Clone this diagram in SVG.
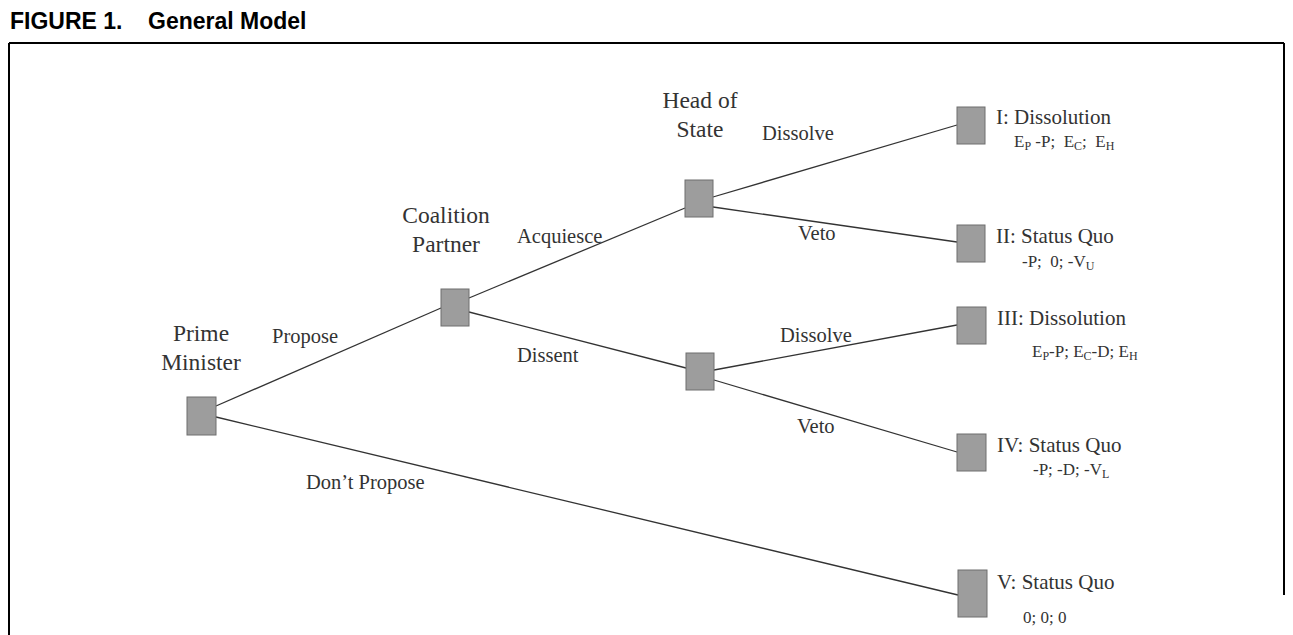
<svg xmlns="http://www.w3.org/2000/svg" width="1293" height="635" viewBox="0 0 1293 635">
<style>
.frame{stroke:#000;stroke-width:2;fill:none}
.box{fill:#9d9d9d;stroke:#6e6e6e;stroke-width:1}
.edge{stroke:#333;stroke-width:1.3;fill:none}
.title{font-family:"Liberation Sans",Arial,sans-serif;font-weight:bold;font-size:23px;fill:#000}
.who{font-family:"Liberation Serif","Times New Roman",serif;font-size:23.5px;fill:#333}
.lab{font-family:"Liberation Serif","Times New Roman",serif;font-size:20.5px;fill:#333}
.out{font-family:"Liberation Serif","Times New Roman",serif;font-size:21px;fill:#333}
.pay{font-family:"Liberation Serif","Times New Roman",serif;font-size:17px;fill:#333;white-space:pre}
.sub{font-size:12px}
</style>
<rect width="1293" height="635" fill="#fff"/>
<g id="frame">
<text class="title" x="10" y="29">FIGURE 1.</text>
<text class="title" x="148" y="29">General Model</text>
<line class="frame" x1="9" y1="43" x2="1284" y2="43"/>
<line class="frame" x1="9" y1="43" x2="9" y2="635"/>
<line class="frame" x1="1284" y1="43" x2="1284" y2="595"/>
</g>
<g id="connectors">
<line class="edge" x1="216" y1="406" x2="441" y2="308"/>
<line class="edge" x1="216" y1="417" x2="958" y2="595"/>
<line class="edge" x1="469" y1="298" x2="685" y2="208"/>
<line class="edge" x1="469" y1="312" x2="686" y2="368"/>
<line class="edge" x1="713" y1="197" x2="957" y2="125"/>
<line class="edge" x1="713" y1="207" x2="957" y2="242"/>
<line class="edge" x1="714" y1="370" x2="957" y2="325"/>
<line class="edge" x1="714" y1="380" x2="957" y2="452"/>
<text class="lab" x="272" y="343">Propose</text>
<text class="lab" x="306" y="489">Don’t Propose</text>
<text class="lab" x="517" y="243">Acquiesce</text>
<text class="lab" x="517" y="362">Dissent</text>
<text class="lab" x="762" y="140">Dissolve</text>
<text class="lab" x="798" y="240">Veto</text>
<text class="lab" x="780" y="342">Dissolve</text>
<text class="lab" x="797" y="433">Veto</text>
</g>
<g id="pm">
<rect class="box" x="187" y="397" width="29" height="38"/>
<text class="who" x="201" y="341" text-anchor="middle">Prime</text>
<text class="who" x="201" y="370" text-anchor="middle">Minister</text>
</g>
<g id="cp">
<rect class="box" x="441" y="289" width="28" height="37"/>
<text class="who" x="446" y="223" text-anchor="middle">Coalition</text>
<text class="who" x="446" y="252" text-anchor="middle">Partner</text>
</g>
<g id="hos">
<rect class="box" x="685" y="180" width="28" height="37"/>
<text class="who" x="700" y="108" text-anchor="middle">Head of</text>
<text class="who" x="700" y="137" text-anchor="middle">State</text>
</g>
<g id="hos2">
<rect class="box" x="686" y="353" width="28" height="37"/>
</g>
<g id="t1">
<rect class="box" x="957" y="107" width="28" height="37"/>
<text class="out" x="996" y="124">I: Dissolution</text>
<text class="pay" x="1014" y="147">E<tspan class="sub" dy="3">P</tspan><tspan dy="-3"> -P;  E</tspan><tspan class="sub" dy="3">C</tspan><tspan dy="-3">;  E</tspan><tspan class="sub" dy="3">H</tspan></text>
</g>
<g id="t2">
<rect class="box" x="957" y="225" width="28" height="37"/>
<text class="out" x="996" y="243">II: Status Quo</text>
<text class="pay" x="1022" y="267">-P;  0; -V<tspan class="sub" dy="3">U</tspan></text>
</g>
<g id="t3">
<rect class="box" x="957" y="307" width="29" height="37"/>
<text class="out" x="997" y="325">III: Dissolution</text>
<text class="pay" x="1032" y="357">E<tspan class="sub" dy="3">P</tspan><tspan dy="-3">-P; E</tspan><tspan class="sub" dy="3">C</tspan><tspan dy="-3">-D; E</tspan><tspan class="sub" dy="3">H</tspan></text>
</g>
<g id="t4">
<rect class="box" x="957" y="434" width="29" height="37"/>
<text class="out" x="997" y="452">IV: Status Quo</text>
<text class="pay" x="1033" y="475">-P; -D; -V<tspan class="sub" dy="3">L</tspan></text>
</g>
<g id="t5">
<rect class="box" x="958" y="570" width="29" height="47"/>
<text class="out" x="997" y="589">V: Status Quo</text>
<text class="pay" x="1023" y="623">0; 0; 0</text>
</g>
</svg>
